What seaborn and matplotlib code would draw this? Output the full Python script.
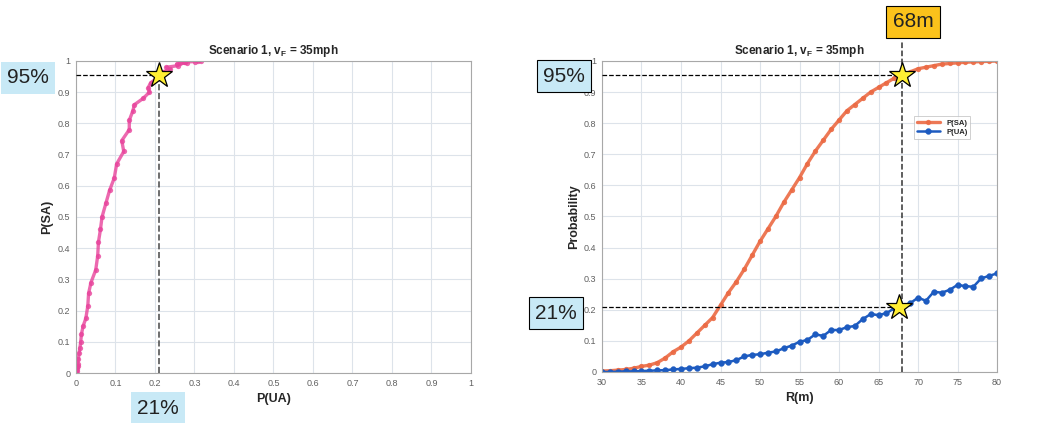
import numpy as np
import pandas as pd
import matplotlib
matplotlib.use("Agg")
import matplotlib.pyplot as plt
import seaborn as sns

# ---- data ----
r_m = list(range(30, 81))
p_sa = [0.003, 0.004, 0.006, 0.008, 0.012, 0.018, 0.022, 0.030, 0.045, 0.065,
        0.080, 0.100, 0.125, 0.150, 0.175, 0.215, 0.255, 0.290, 0.330, 0.375,
        0.420, 0.460, 0.500, 0.545, 0.585, 0.625, 0.670, 0.710, 0.745, 0.780,
        0.810, 0.840, 0.860, 0.880, 0.900, 0.915, 0.930, 0.945, 0.955, 0.965,
        0.975, 0.980, 0.985, 0.990, 0.992, 0.994, 0.996, 0.997, 0.998, 0.999,
        1.000]
p_ua = [0.000, 0.000, 0.001, 0.002, 0.002, 0.003, 0.004, 0.005, 0.006, 0.008,
        0.010, 0.012, 0.014, 0.018, 0.025, 0.030, 0.032, 0.038, 0.050, 0.055,
        0.057, 0.062, 0.066, 0.076, 0.085, 0.097, 0.103, 0.121, 0.116, 0.135,
        0.135, 0.144, 0.148, 0.170, 0.186, 0.183, 0.189, 0.205, 0.210, 0.221,
        0.239, 0.229, 0.258, 0.255, 0.264, 0.280, 0.276, 0.274, 0.301, 0.309,
        0.317]
title = "Scenario 1, v$_\\mathregular{F}$ = 35mph"
sa_star = 0.955
ua_star = 0.21
r_star = 68
r_star_ua = 67.6
left_xticks = [round(0.1 * i, 1) for i in range(11)]
left_xlabels = ["0", "0.1", "0.2", "0.3", "0.4", "0.5", "0.6", "0.7", "0.8", "0.9", "1"]
yticks = [round(0.1 * i, 1) for i in range(11)]
ylabels = ["0", "0.1", "0.2", "0.3", "0.4", "0.5", "0.6", "0.7", "0.8", "0.9", "1"]
right_xticks = list(range(30, 81, 5))

df = pd.DataFrame({"R": r_m, "P(SA)": p_sa, "P(UA)": p_ua})

sns.set_style("whitegrid", {"grid.color": "#dde3ea", "axes.edgecolor": "#a0a0a0"})
plt.rcParams["font.family"] = ["Liberation Sans", "DejaVu Sans"]

fig = plt.figure(figsize=(10.39, 4.23), dpi=100)
fig.patch.set_facecolor("white")
ax1 = fig.add_axes([0.0731, 0.1182, 0.3802, 0.7376])
ax2 = fig.add_axes([0.5794, 0.1206, 0.3802, 0.7352])

pink = "#e8439b"
orange = "#eb6a44"
blue = "#1d5bc0"

# ---- left ----
sns.lineplot(data=df, x="P(UA)", y="P(SA)", sort=False, estimator=None, ax=ax1,
             color=pink, lw=2.4, marker="o", markersize=3.8, markeredgewidth=0,
             alpha=0.8)
ax1.set_xlim(0, 1)
ax1.set_ylim(0, 1)
ax1.set_xticks(left_xticks)
ax1.set_xticklabels(left_xlabels)
ax1.set_yticks(yticks)
ax1.set_yticklabels(ylabels)
ax1.set_xlabel("P(UA)", fontsize=9, fontweight="bold")
ax1.set_ylabel("P(SA)", fontsize=9, fontweight="bold", labelpad=3)
ax1.set_title(title, fontsize=8.5, fontweight="bold", pad=5)
ax1.plot([0, ua_star], [sa_star, sa_star], ls="--", color="black", lw=0.9, zorder=5)
ax1.plot([ua_star, ua_star], [0, sa_star], ls="--", color="#555555", lw=1.2, zorder=5)
ax1.plot([ua_star], [sa_star], marker="*", markersize=19, color="#ffee33",
         markeredgecolor="black", markeredgewidth=0.9, zorder=6, clip_on=False)

# ---- right ----
sns.lineplot(data=df, x="R", y="P(SA)", ax=ax2, color=orange, lw=2.4,
             marker="o", markersize=3.8, markeredgewidth=0, alpha=0.9, label="P(SA)")
sns.lineplot(data=df, x="R", y="P(UA)", ax=ax2, color=blue, lw=1.8,
             marker="o", markersize=4.2, markeredgecolor=blue,
             markeredgewidth=0.3, label="P(UA)")
ax2.set_xlim(30, 80)
ax2.set_ylim(0, 1)
ax2.set_xticks(right_xticks)
ax2.set_yticks(yticks)
ax2.set_yticklabels(ylabels)
ax2.set_xlabel("R(m)", fontsize=9, fontweight="bold")
ax2.set_ylabel("Probability", fontsize=9, fontweight="bold", labelpad=3)
ax2.set_title(title, fontsize=8.5, fontweight="bold", pad=5)
ax2.plot([30, r_star], [sa_star, sa_star], ls="--", color="black", lw=0.9, zorder=5)
ax2.plot([30, r_star_ua], [ua_star, ua_star], ls="--", color="black", lw=0.9, zorder=5)
ax2.plot([r_star, r_star], [0, 1.067], ls="--", color="#333333", lw=1.1, zorder=5,
         clip_on=False)
ax2.plot([r_star], [sa_star], marker="*", markersize=19, color="#ffee33",
         markeredgecolor="black", markeredgewidth=0.9, zorder=6, clip_on=False)
ax2.plot([r_star_ua], [ua_star], marker="*", markersize=19, color="#ffee33",
         markeredgecolor="black", markeredgewidth=0.9, zorder=6, clip_on=False)
leg = ax2.legend(loc="upper left", bbox_to_anchor=(0.78, 0.835),
                 prop={"weight": "bold", "size": 5.5}, frameon=True, fancybox=False,
                 handlelength=3, borderpad=0.4, labelspacing=0.3)
leg.get_frame().set_edgecolor("#bbbbbb")
leg.get_frame().set_linewidth(0.6)

for ax in (ax1, ax2):
    ax.tick_params(axis="both", labelsize=6.5, colors="#606060", length=2, pad=2)
    ax.grid(True, color="#dde3ea", lw=0.8)
    for s in ax.spines.values():
        s.set_color("#a8a8a8")
        s.set_linewidth(0.8)

# ---- annotation boxes ----
blue_box = "#c8e9f6"
fig.text(0.027, 0.816, "95%", fontsize=15, ha="center", va="center", color="#222222",
         bbox=dict(boxstyle="square,pad=0.3", fc=blue_box, ec="none"))
fig.text(0.152, 0.035, "21%", fontsize=15, ha="center", va="center", color="#222222",
         bbox=dict(boxstyle="square,pad=0.3", fc=blue_box, ec="none"))
fig.text(0.543, 0.820, "95%", fontsize=15, ha="center", va="center", color="#222222",
         bbox=dict(boxstyle="square,pad=0.3", fc=blue_box, ec="black", lw=0.8))
fig.text(0.535, 0.260, "21%", fontsize=15, ha="center", va="center", color="#222222",
         bbox=dict(boxstyle="square,pad=0.3", fc=blue_box, ec="black", lw=0.8))
fig.text(0.879, 0.948, "68m", fontsize=15, ha="center", va="center", color="#222222",
         bbox=dict(boxstyle="square,pad=0.32", fc="#fbc21b", ec="black", lw=0.8))

fig.savefig("out.png", dpi=100, facecolor="white")
